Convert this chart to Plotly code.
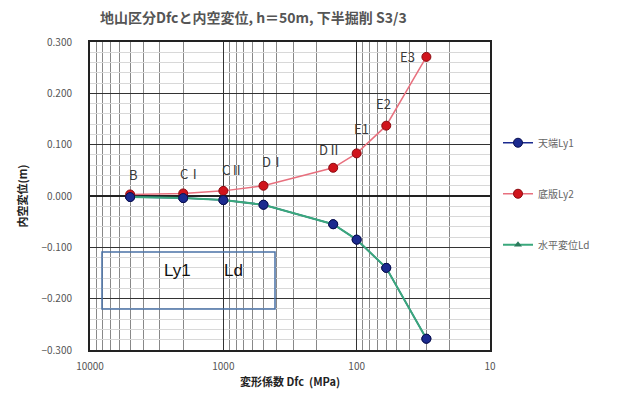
import math
import plotly.graph_objects as go

# Deformation modulus Dfc (MPa) for each ground class
dfc = [5000, 2000, 1000, 500, 150, 100, 60, 30]
ground_class = ["B", "CⅠ", "CⅡ", "DⅠ", "DⅡ", "E1", "E2", "E3"]

# Inner-space displacement (m)
ly1 = [-0.002, -0.004, -0.008, -0.017, -0.055, -0.085, -0.140, -0.278]   # crown
ly2 = [0.003, 0.005, 0.010, 0.020, 0.055, 0.083, 0.137, 0.271]          # invert
ld = [-0.002, -0.004, -0.008, -0.017, -0.055, -0.085, -0.140, -0.278]    # horizontal

x_ticks = [10000, 1000, 100, 10]
y_ticks = [0.3, 0.2, 0.1, 0.0, -0.1, -0.2, -0.3]

# label offsets (px) relative to each invert point
label_dx = [3, 7, 9, 10, -3, 5, -3, -19]
label_dy = [20, 20, 21, 24, 18, 25, 22, 0]

JP = "Noto Sans CJK JP"
BLUE = "#1b2a8f"
RED = "#d0141c"
RED_LINE = "#e8707e"
GREEN = "#3aa87c"

fig = go.Figure()

fig.add_trace(go.Scatter(
    x=dfc, y=ly1, mode="lines+markers", name="天端Ly1", legendrank=1,
    legendgroup="a",
    line=dict(color=BLUE, width=1.5),
    marker=dict(symbol="circle", size=9, color=BLUE, line=dict(color="#0a1050", width=1)),
))
fig.add_trace(go.Scatter(
    x=dfc, y=ly2, mode="lines+markers", name="底版Ly2", legendrank=2,
    legendgroup="b",
    line=dict(color=RED_LINE, width=1.5),
    marker=dict(symbol="circle", size=9, color=RED, line=dict(color="#8a0a10", width=1)),
))
fig.add_trace(go.Scatter(
    x=dfc, y=ld, mode="lines+markers", name="水平変位Ld", legendrank=3,
    legendgroup="c",
    line=dict(color=GREEN, width=2),
    marker=dict(symbol="triangle-up", size=7, color="#2a7a5c"),
))
# crown markers drawn above the horizontal-displacement line
fig.add_trace(go.Scatter(
    x=dfc, y=ly1, mode="markers", showlegend=False, hoverinfo="skip",
    marker=dict(symbol="circle", size=9, color=BLUE, line=dict(color="#0a1050", width=1)),
))

for xv, yv, t, dx, dy in zip(dfc, ly2, ground_class, label_dx, label_dy):
    fig.add_annotation(
        x=math.log10(xv), y=yv, text=t, showarrow=False,
        xshift=dx, yshift=dy, font=dict(family=JP, size=13, color="#3a3a3a"),
    )

# log-scale minor grid positions (2..9 within each decade)
minor_vals = [m * 10 ** d for d in range(1, 4) for m in range(2, 10)]

fig.update_xaxes(
    type="log", range=[4, 1],
    tickvals=x_ticks, ticktext=[str(v) for v in x_ticks],
    tickfont=dict(family=JP, size=10, color="#555555"),
    showgrid=True, gridcolor="#333333", gridwidth=1,
    minor=dict(tickvals=minor_vals, showgrid=True, gridcolor="#888888", gridwidth=1),
    showline=True, linecolor="#222222", linewidth=2, mirror=True,
    ticks="", ticklabelstandoff=6,
    title=dict(text="<b>変形係数 Dfc  (MPa)</b>", font=dict(family=JP, size=11, color="#222222"), standoff=6),
    zeroline=False,
)
fig.update_yaxes(
    range=[-0.3, 0.3],
    tickvals=y_ticks, tickformat=".3f",
    tickfont=dict(family=JP, size=10, color="#555555"),
    showgrid=True, gridcolor="#333333", gridwidth=1,
    minor=dict(dtick=0.02, showgrid=True, gridcolor="#d8d8d8", gridwidth=1),
    showline=True, linecolor="#222222", linewidth=2, mirror=True,
    ticks="", ticklabelstandoff=14,
    title=dict(text="<b>内空変位(m)</b>", font=dict(family=JP, size=11, color="#222222"), standoff=12),
    zeroline=True, zerolinecolor="#222222", zerolinewidth=1.5,
)

# title
fig.add_annotation(
    xref="paper", yref="paper", x=(253 - 90) / 400, y=(350 - 17) / 308,
    text="<b>地山区分Dfcと内空変位, h＝50m, 下半掘削 S3/3</b>", showarrow=False,
    font=dict(family=JP, size=14, color="#555555"), xanchor="center", yanchor="middle",
)

# framed note box
fig.add_shape(
    type="rect", xref="paper", yref="paper",
    x0=0.03, x1=0.4625, y0=0.133, y1=0.318,
    line=dict(color="#4a72a6", width=1.5), fillcolor="rgba(0,0,0,0)",
)
fig.add_annotation(
    xref="paper", yref="paper", x=(162 - 90) / 400, y=(350 - 282) / 308,
    text="Ly1", showarrow=False, font=dict(family="Liberation Sans", size=17, color="#111111"),
)
fig.add_annotation(
    xref="paper", yref="paper", x=(222 - 90) / 400, y=(350 - 282) / 308,
    text="Ld", showarrow=False, font=dict(family="Liberation Sans", size=17, color="#111111"),
)

fig.update_layout(
    width=625, height=399,
    margin=dict(l=90, r=135, t=42, b=49),
    paper_bgcolor="white", plot_bgcolor="white",
    showlegend=True,
    legend=dict(
        x=1.02, y=0.72, xanchor="left", yanchor="top",
        font=dict(family=JP, size=10, color="#666666"),
        tracegroupgap=32, itemwidth=30, bgcolor="rgba(0,0,0,0)",
    ),
)

fig.write_html("out.html")
